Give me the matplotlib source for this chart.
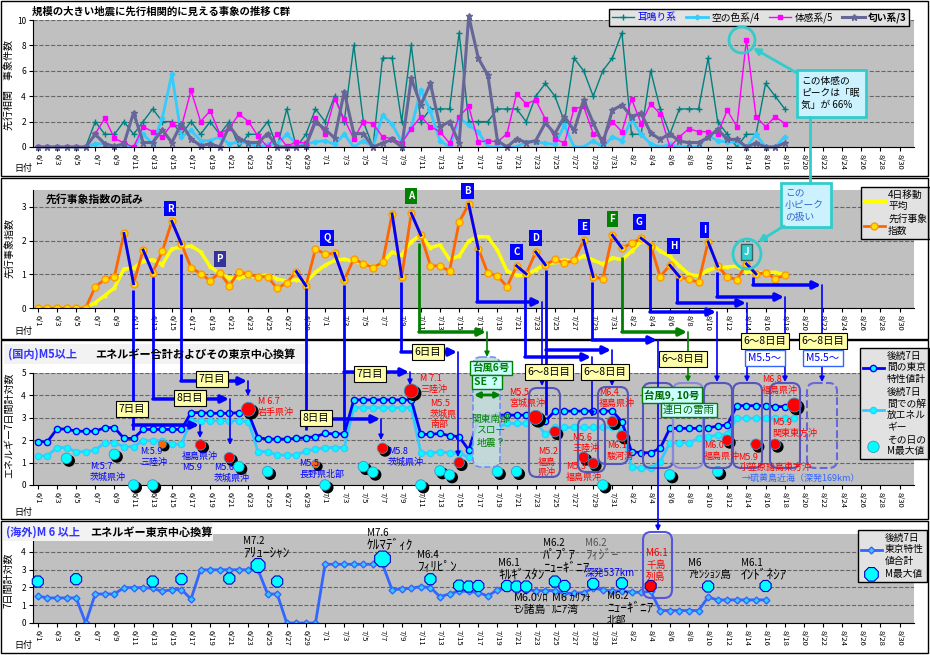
import numpy as np
import matplotlib.pyplot as plt
from matplotlib.patches import Rectangle, FancyBboxPatch, Ellipse
from matplotlib.transforms import offset_copy

plt.rcParams['font.family'] = ['Noto Sans CJK JP', 'DejaVu Sans']

# 日付 6/1 - 8/31
dates = [f"{m}/{d}" for m, n in [(6, 30), (7, 31), (8, 31)] for d in range(1, n + 1)]

# パネル1 先行相関 事象件数 (6/1 - 8/18)
mimi = [0, 0, 0, 0, 0, 0, 2, 1, 1, 2, 1, 2, 3, 2, 2, 1, 2, 1, 2, 1, 2, 0, 1, 1, 2, 0,
        3, 0, 1, 3, 2, 4, 2, 8, 2, 0, 7, 7, 2, 8, 2, 3, 3, 3, 9, 2, 2, 2, 3, 3, 3, 2,
        4, 5, 4, 2, 7, 6, 4, 6, 7, 9, 1, 1, 6, 3, 1, 3, 3, 3, 7, 2, 1, 0, 1, 1, 5, 4, 3]
sora = [0, 0, 0, 0, 0, 0, 0.25, 0.25, 0, 0, 0, 1.0, 0.25, 2.25, 5.75, 0.8,
        1.3, 0.5, 0.5, 0.8, 0.25, 0.4, 0.3, 0.0, 0.2, 0.25, 1.0, 0.25, 0.25, 0.4, 0.5, 0.2,
        1.0, 0.0, 0.5, 0.0, 2.5, 1.8, 0.4, 1.5, 4.5, 2.8, 0.5, 0.0, 2.3, 1.7,
        1.2, 0, 0, 0, 0, 0.4, 0.4, 0.3, 0.2, 1.7, 0, 0, 0.5, 0, 0.8, 0.5, 2.2, 1.0, 0.25, 0,
        0.2, 0, 0, 0, 0.9, 0.5, 0.4, 0.4, 0, 1.0, 0, 0, 0.8]
taikan = [0, 0, 0, 0, 0, 0, 1.05, 2.25, 0.7, 0.3, 0, 1.6, 1.2, 0.8, 1.8, 1.6,
          4.45, 2.0, 2.85, 1.05, 1.47, 2.6, 2.0, 0.85, 0, 1.05, 0.05, 0.4, 0.3, 2.25, 1.05, 3.8,
          2.2, 0.65, 2.0, 1.85, 0.8, 0.65, 0.3, 1.45, 2.4, 1.6, 1.2, 0.3, 2.4, 3.2,
          0.4, 0.5, 0.4, 1.05, 4.2, 3.4, 3.7, 2.2, 0.65, 0.3, 3.0, 3.2, 1.05, 0.65, 2.0, 1.2,
          3.8, 1.85, 3.4, 2.6, 0, 0.8, 1.45, 1.2, 1.2, 1.05, 2.9, 1.6, 8.45, 2.4, 1.6, 2.4, 1.85]
nioi = [0, 0, 0, 0, 0, 0, 1.0, 0.25, 0.05, 0.25, 2.7, 0.35, 0.35, 1.35, 0.35, 1.85,
        0.65, 0.1, 0.25, 0, 1.65, 0.65, 0.35, 0.35, 1.05, 0, 0, 0, 0.1, 2.0, 1.4, 0.7,
        4.35, 1.05, 1.05, 0, 0.3, 0.6, 0, 5.4, 3.3, 5.0, 1.6, 2.0, 0.3, 10.3,
        7.0, 5.65, 0.5, 0, 0.65, 0.35, 0.5, 1.9, 1.05, 2.4, 1.3, 3.7, 1.9, 0.3, 2.9, 3.3,
        2.4, 2.65, 1.1, 0.6, 1.05, 0.45, 0.35, 0.35, 0.75, 1.4, 0.6, 0.6, 0, 0.3, 0, 0, 0.3]

# パネル2 先行事象指数 と 4日移動平均
sensen = [0, 0, 0, 0, 0, 0, 0.63, 0.85, 0.93, 2.21, 0.72, 1.72, 1.05, 1.68, 2.57, 1.9,
          1.2, 1.02, 0.81, 1.05, 0.66, 1.08, 1.0, 0.93, 0.93, 0.58, 0.75, 1.08, 0.66, 1.75,
          1.6, 1.62, 0.83, 1.46, 1.31, 1.2, 1.35, 2.79, 0.93, 2.81, 2.16, 1.26, 1.24, 1.1,
          2.55, 3.08, 1.76, 1.03, 0.96, 0.63, 1.25, 1.01, 1.66, 1.28, 1.44, 1.33, 1.41, 2.01,
          0.93, 0.86, 2.16, 1.78, 1.92, 2.07, 1.85, 0.93, 1.27, 0.93, 0.85, 0.76, 1.96, 1.24,
          0.93, 0.84, 1.31, 1.01, 1.05, 0.87, 0.97]
ma4 = [0, 0, 0, 0, 0, 0, 0.16, 0.37, 0.60, 1.16, 1.18, 1.40, 1.43, 1.29, 1.76, 1.80,
       1.84, 1.67, 1.23, 1.02, 0.89, 0.90, 0.95, 0.92, 0.99, 0.86, 0.80, 0.84, 0.77, 1.06,
       1.27, 1.41, 1.45, 1.38, 1.31, 1.20, 1.33, 1.66, 1.57, 1.97, 2.17, 1.79, 1.87, 1.44,
       1.54, 1.99, 2.12, 2.11, 1.71, 1.10, 0.97, 0.96, 1.14, 1.30, 1.35, 1.43, 1.37, 1.55,
       1.42, 1.30, 1.49, 1.43, 1.68, 1.98, 1.91, 1.69, 1.53, 1.25, 1.00, 0.95, 1.13, 1.20,
       1.22, 1.24, 1.08, 1.05, 1.05, 1.06, 0.98]
peaks = [9, 11, 14, 27, 31, 37, 39, 45, 50, 52, 57, 60, 63, 66, 70, 74]

# パネル3 国内 M5以上
dom_tokyo = [1.93, 1.93, 2.5, 2.5, 2.4, 2.4, 2.4, 2.56, 2.56, 2.08, 2.08, 2.48, 2.48, 2.48,
             2.48, 2.48, 3.23, 3.23, 3.2, 3.2, 3.2, 3.23, 3.2, 2.11, 2.05, 2.05, 2.05, 2.08,
             2.11, 2.16, 2.3, 2.28, 2.28, 3.8, 3.8, 3.8, 3.8, 3.8, 3.8, 3.8, 2.26, 2.26, 2.3,
             2.2, 2.16, 1.56, 2.93, 2.93, 3.12, 3.12, 3.12, 3.12, 3.12, 2.86, 3.3, 3.3, 3.3,
             3.3, 3.3, 3.3, 3.3, 2.83, 1.49, 1.44, 1.44, 1.64, 2.53, 2.53, 2.53, 2.53, 2.55,
             2.63, 2.68, 3.54, 3.54, 3.54, 3.54, 3.5, 3.5, 3.5]
dom_energy = [1.3, 1.3, 1.67, 1.67, 1.49, 1.49, 1.56, 1.89, 1.89, 1.71, 1.71, 1.98, 1.98,
              1.98, 1.82, 1.82, 2.87, 2.87, 2.87, 2.87, 2.87, 2.87, 2.83, 1.49, 1.49, 1.34,
              1.34, 1.34, 1.52, 1.6, 1.67, 1.67, 1.67, 3.45, 3.45, 3.45, 3.45, 3.45, 3.45,
              3.45, 1.44, 1.41, 1.49, 1.43, 1.43, 1.24, 2.53, 2.57, 2.57, 2.75, 2.75, 2.75,
              2.83, 2.26, 2.57, 2.57, 2.57, 2.57, 2.57, 2.57, 2.57, 2.45, 0.82, 0.74, 0.74,
              1.04, 1.89, 1.89, 1.89, 2.08, 2.16, 2.23, 2.26, 2.98, 2.98, 2.98, 2.98, 2.98,
              2.98, 2.98]
dom_qday = [3, 8, 10, 12, 13, 17, 20, 21, 22, 24, 29, 30, 34, 35, 36, 39, 40, 42, 43, 44,
            48, 50, 52, 54, 57, 58, 59, 60, 61, 66, 71, 72, 75, 77, 79]
dom_qval = [1.19, 1.37, 0, 0, 1.82, 1.79, 1.22, 0.82, 3.38, 0.6, 0.94, 0, 0.82, 0.57, 1.64,
            4.2, 0, 0.63, 0.45, 1.0, 0.6, 0.6, 3.02, 2.38, 1.24, 0.97, 0, 2.83, 2.19, 0.45,
            0.6, 2.0, 1.82, 1.82, 3.57]
dom_qkind = list("ccccorrcrcocccrrcccrccrrrrcrrccrrrr")

# パネル4 海外 M6以上
ovs_tokyo = [1.52, 1.41, 1.41, 1.41, 1.41, 0, 1.63, 1.63, 1.63, 1.99, 1.99, 1.99, 1.95, 1.77,
             1.88, 1.88, 1.35, 2.99, 2.99, 2.99, 2.99, 2.99, 2.99, 2.99, 1.63, 1.63, 0, 0, 0,
             0, 3.3, 3.3, 3.3, 3.3, 3.3, 3.3, 3.3, 1.86, 1.92, 1.95, 2.05, 1.99, 1.48, 1.63,
             1.8, 1.77, 1.71, 1.52, 1.86, 1.95, 1.86, 1.86, 1.82, 1.82, 1.82, 1.67, 1.67, 1.71,
             1.95, 1.86, 1.8, 1.8, 1.73, 1.73, 1.77, 0.7, 0.7, 0.7, 0.7, 0.7, 1.45, 1.3, 1.3,
             1.3, 1.3, 1.3, 1.3]
ovs_qday = [0, 4, 12, 15, 20, 23, 25, 36, 41, 44, 45, 46, 49, 50, 51, 54, 55, 58, 61, 64, 70, 76]
ovs_qval = [2.33, 2.46, 2.33, 2.46, 2.5, 3.23, 2.33, 3.6, 2.46, 2.1, 2.05, 2.08, 2.08, 2.05,
            2.05, 2.33, 2.08, 2.2, 2.23, 2.08, 2.05, 2.08]

W, H = 930, 655
fig = plt.figure(figsize=(9.3, 6.55), dpi=100)
fig.patch.set_facecolor('white')


def panel(y_top, y_bot):
    ax = fig.add_axes([33 / W, 1 - y_bot / H, 881 / W, (y_bot - y_top) / H])
    ax.set_facecolor('#C0C0C0')
    ax.set_xlim(-0.5, len(dates) - 0.5)
    ax.set_xticks(range(0, len(dates), 2))
    ax.set_xticklabels(dates[::2], rotation=-90, fontsize=5.5)
    ax.tick_params(axis='x', length=3, pad=2)
    ax.tick_params(axis='y', labelsize=6, length=3, pad=2)
    ax.yaxis.grid(True, ls='--', color='#666666', lw=0.8)
    ax.set_axisbelow(True)
    for s in ['top', 'right']:
        ax.spines[s].set_visible(False)
    return ax


def legend_at(ax, x, y, **kw):
    leg = ax.legend(loc='upper left', bbox_to_anchor=(x / W, 1 - y / H),
                    bbox_transform=fig.transFigure, fontsize=7, fancybox=False,
                    edgecolor='black', facecolor='#E2E2E2', framealpha=1,
                    borderpad=0.3, labelspacing=0.3, handletextpad=0.3, **kw)
    leg.get_frame().set_linewidth(1)
    return leg


# ---- パネル1
ax1 = panel(20, 147)
ax1.set_ylim(0, 10)
ax1.set_yticks(range(0, 11, 2))
d = np.arange(len(mimi))
ax1.plot(d, mimi, color='#008080', lw=1, marker='+', ms=4, mew=1, label='耳鳴り系')
ax1.plot(d, sora, color='#33CCFF', lw=2, marker='D', ms=2.5, label='空の色系/4')
ax1.plot(d, taikan, color='#FF00FF', lw=1, marker='s', ms=3, label='体感系/5')
ax1.plot(d, nioi, color='#666699', lw=2.2, marker='*', ms=4.5, label='匂い系/3', clip_on=False)
leg1 = legend_at(ax1, 604, 4, ncol=4, handlelength=2.3, columnspacing=1.0)
leg1.get_texts()[0].set_color('#0000FF')
leg1.get_texts()[3].set_fontweight('bold')

# ---- パネル2
ax2 = panel(190, 308)
ax2.set_ylim(0, 3.5)
ax2.set_yticks([0, 1, 2, 3])
d = np.arange(len(sensen))
ax2.plot(d, ma4, color='#FFFF00', lw=2.5, marker='o', ms=2, label='4日移動\n平均')
ax2.plot(d, sensen, color='#FF6600', lw=2, marker='o', ms=5, mfc='#FFDD00', mec='#FF9900',
         label='先行事象\n指数')
for p in peaks:
    ax2.plot([p, p + 1], [sensen[p], sensen[p + 1]], color='#0000FF', lw=2, zorder=3)
legend_at(ax2, 856, 182, handlelength=2.2)
ax2.text(0.8, 3.22, '先行事象指数の試み', fontsize=7.8, fontweight='bold', va='center')
for name, x, y, c in [('R', 13.8, 2.95, '#0000FF'), ('P', 19.0, 1.46, '#333399'),
                      ('Q', 30.2, 2.08, '#0000FF'), ('A', 39.0, 3.33, '#008000'),
                      ('B', 44.85, 3.48, '#0000FF'), ('C', 50.0, 1.67, '#0000FF'),
                      ('D', 51.95, 2.08, '#0000FF'), ('E', 57.0, 2.41, '#0000FF'),
                      ('F', 60.0, 2.65, '#008000'), ('G', 62.8, 2.56, '#0000FF'),
                      ('H', 66.4, 1.85, '#0000FF'), ('I', 69.6, 2.32, '#0000FF'),
                      ('J', 74.0, 1.67, '#33CCCC')]:
    ax2.text(x, y, name, color='white', fontsize=7, fontweight='bold', ha='center',
             va='center', clip_on=False, zorder=6,
             bbox=dict(boxstyle='square,pad=0.3', fc=c, ec='#336666' if name == 'J' else 'none'))

# ---- パネル3
ax3 = panel(373, 485)
ax3.set_ylim(0, 5)
ax3.set_yticks(range(6))
d = np.arange(len(dom_tokyo))
ax3.plot(d, dom_tokyo, color='#0000FF', lw=2, marker='o', ms=4.5, mfc='#00FFFF', mec='#0000FF',
         label='後続7日\n間の東京\n特性値計', zorder=3)
ax3.plot(d, dom_energy, color='#33CCFF', lw=2, marker='o', ms=4.5, mfc='#00FFFF', mec='#33CCFF',
         label='後続7日\n間での解\n放エネル\nギー', zorder=2)
colmap = {'c': '#00FFFF', 'r': '#FF0000', 'o': '#FF6600'}
q_col = [colmap[k] for k in dom_qkind]
q_size = [(14 / 1.39) ** 2 if v > 2.9 else ((8 / 1.39) ** 2 if k == 'o' else (10.5 / 1.39) ** 2)
          for v, k in zip(dom_qval, dom_qkind)]
shadow = offset_copy(ax3.transData, fig=fig, x=2.5, y=-2.5, units='dots')
ax3.scatter(dom_qday, dom_qval, s=q_size, color='black', transform=shadow, zorder=4, clip_on=False)
ax3.scatter(dom_qday, dom_qval, s=q_size, c=q_col, edgecolors='#3399CC', linewidths=0.6,
            zorder=5, clip_on=False, label='その日の\nM最大値')
legend_at(ax3, 855, 343, handlelength=2.2)

# ---- パネル4
ax4 = panel(534, 623)
ax4.set_ylim(0, 5)
ax4.set_yticks(range(5))
d = np.arange(len(ovs_tokyo))
ax4.plot(d, ovs_tokyo, color='#3366FF', lw=2, marker='D', ms=3.5, mfc='#33CCFF', mec='#3366FF',
         label='後続7日\n東京特性\n値合計')
o_col = ['#FF0000' if x == 64 else '#00FFFF' for x in ovs_qday]
o_size = [(17 / 1.39) ** 2 if v > 3.4 else ((15 / 1.39) ** 2 if v > 3 else (12 / 1.39) ** 2)
          for v in ovs_qval]
ax4.scatter(ovs_qday, ovs_qval, s=o_size, c=o_col, marker='8', edgecolors='#0000CC',
            linewidths=0.8, zorder=5, clip_on=False, label='M最大値')
legend_at(ax4, 853, 525, handlelength=2.2)

# ---- 重ね描き (ピクセル座標)
ov = fig.add_axes([0, 0, 1, 1], zorder=10)
ov.set_xlim(0, W)
ov.set_ylim(H, 0)
ov.axis('off')

BLUE, GREEN, CYAN = '#0000FF', '#008000', '#33CCCC'

for y0, y1 in [(1, 176), (178, 339), (340, 519), (521, 653)]:
    ov.add_patch(Rectangle((1, y0), 927, y1 - y0, fill=False, ec='black', lw=1))

# 見出し
ov.text(32, 12, '規模の大きい地震に先行相関的に見える事象の推移 C群', fontsize=7.5,
        fontweight='bold', va='center')
ov.add_patch(Rectangle((4, 344), 306, 20, fc='#F2F2F2', ec='none'))
ov.text(8, 354, '(国内)M5以上', color='#3333FF', fontsize=8, fontweight='bold', va='center')
ov.text(95, 354, 'エネルギー合計およびその東京中心換算', fontsize=8, fontweight='bold', va='center')
ov.add_patch(Rectangle((3, 523), 210, 18, fc='#F2F2F2', ec='none'))
ov.text(6, 532, '(海外)M 6 以上', color='#3333FF', fontsize=8, fontweight='bold', va='center')
ov.text(90, 532, 'エネルギー東京中心換算', fontsize=8, fontweight='bold', va='center')

for x, y, s in [(10, 85, '先行相関　事象件数'), (10, 248, '先行事象指数'),
                (9, 425, 'エネルギー7日間計対数'), (9, 580, '7日間計対数')]:
    ov.text(x, y, s, rotation=90, ha='center', va='center', fontsize=7.2)
for y in [168, 331, 512, 645]:
    ov.text(14, y, '日付', fontsize=6.5, va='center')


def drop(x0, y0, yturn, x1, ytgt, color=BLUE, ybot=None):
    ov.plot([x0, x0], [y0, ybot if ybot else yturn], color=color, lw=2, solid_capstyle='butt')
    ov.annotate('', xy=(x1, yturn), xytext=(x0, yturn),
                arrowprops=dict(arrowstyle='-|>', color=color, lw=2.5, mutation_scale=11,
                                shrinkA=0, shrinkB=0))
    ov.annotate('', xy=(x1 + 1, ytgt), xytext=(x1 + 1, yturn),
                arrowprops=dict(arrowstyle='-|>', color=color, lw=1.2, mutation_scale=7,
                                shrinkA=0, shrinkB=0))


drop(133, 290, 425, 199, 438, ybot=430)
drop(153, 277, 399, 229, 445)
drop(181, 254, 381, 247, 396)
drop(306, 288, 419, 380, 440, ybot=430)
drop(344, 285, 372, 409, 385, ybot=430)
drop(401, 282, 352, 457, 457)
drop(419, 243, 332, 486, 357, color=GREEN)
drop(477, 250, 302, 541, 386)
drop(525, 277, 357, 591, 417)
drop(546, 270, 350, 611, 386, ybot=415)
drop(592, 282, 340, 657, 531)
drop(622, 257, 332, 687, 382, color=GREEN)
drop(650, 245, 312, 716, 382)
drop(677, 278, 303, 746, 382)
drop(717, 272, 297, 784, 382)
drop(753, 277, 285, 821, 382)

# 囲み
ov.add_patch(FancyBboxPatch((473, 357), 27, 110, boxstyle='round,pad=0,rounding_size=8',
                            fc='#C4DCDC', ec='#6688FF', ls='--', lw=1.2, alpha=0.9))
for x0, y0, x1, y1, c, ls in [(529, 388, 560, 477, '#5555BB', '-'),
                              (578, 418, 605, 472, '#5555BB', '-'),
                              (598, 387, 628, 464, '#5555BB', '-'),
                              (643, 383, 673, 468, '#5555BB', '-'),
                              (673, 383, 703, 468, '#8888DD', '-'),
                              (704, 383, 732, 468, '#5555BB', '-'),
                              (733, 383, 762, 468, '#5555BB', '-'),
                              (770, 383, 800, 468, '#5555BB', '-'),
                              (807, 383, 837, 468, '#6666DD', '--'),
                              (643, 532, 672, 598, '#5555DD', '-')]:
    ov.add_patch(FancyBboxPatch((x0, y0), x1 - x0, y1 - y0, boxstyle='round,pad=0,rounding_size=8',
                                fill=False, ec=c, ls=ls, lw=1.5))

ov.annotate('', xy=(501, 395), xytext=(474, 395),
            arrowprops=dict(arrowstyle='<|-|>', color=GREEN, lw=2, mutation_scale=8,
                            shrinkA=0, shrinkB=0))
ov.text(491, 431, '関東南部\nスロー\n地震？', color=GREEN, fontsize=7, ha='center', va='center',
        linespacing=1.3)

box_kw = dict(boxstyle='square,pad=0.25', fc='#FFFFAA', ec='black', lw=0.8)
for s, x, y in [('7日目', 132, 409), ('8日目', 190, 398), ('7日目', 212, 379),
                ('8日目', 316, 418), ('7日目', 370, 374), ('6日目', 428, 352),
                ('6～8日目', 549, 372), ('6～8日目', 605, 372), ('6～8日目', 683, 359),
                ('6～8日目', 765, 341), ('6～8日目', 823, 341)]:
    ov.text(x, y, s, fontsize=7.5, ha='center', va='center', bbox=box_kw)
for x in [765, 823]:
    ov.text(x, 358, 'M5.5～', fontsize=7.5, ha='center', va='center', color=BLUE,
            bbox=dict(boxstyle='square,pad=0.3', fc='white', ec='#3366FF', lw=1))
g_kw = dict(boxstyle='square,pad=0.2', fc='#CCFFFF', ec=GREEN, lw=1)
ov.text(491, 368, '台風6号', color=GREEN, fontsize=7.5, fontweight='bold', ha='center',
        va='center', bbox=g_kw)
ov.text(487, 382, 'SE ？', color=GREEN, fontsize=7.5, fontweight='bold', ha='center',
        va='center', bbox=g_kw)
ov.text(672, 395, '台風9, 10号', color='#006600', fontsize=7.5, fontweight='bold', ha='center',
        va='center', bbox=g_kw)
ov.text(689, 410, '連日の雷雨', color='#006600', fontsize=7.5, ha='center', va='center',
        bbox=g_kw)

# 国内地震ラベル
RED = '#FF0000'
for x, y, s, c in [(90, 472, 'M:5.7\n茨城県沖', BLUE), (140, 457, 'M:5.9\n三陸沖', BLUE),
                   (182, 462, '福島県沖\nM5.9', BLUE), (214, 473, 'M5.6\n茨城県沖', BLUE),
                   (299, 469, 'M5.5\n長野県北部', BLUE), (388, 457, 'M5.8\n茨城県沖', BLUE),
                   (258, 407, 'M 6.7\n岩手県沖', RED), (420, 384, 'M 7.1\n三陸沖', RED),
                   (430, 414, 'M5.5\n茨城県\n南部', RED), (509, 398, 'M5.5\n宮城県沖', RED),
                   (538, 462, 'M5.2\n福島\n県沖', RED), (572, 443, 'M5.6\n三陸沖', RED),
                   (566, 472, 'M5.3\n福島県沖', RED), (599, 398, 'M6.4\n福島県沖', RED),
                   (607, 451, 'M6.1\n駿河湾', RED), (704, 451, 'M6.0\n福島県沖', RED),
                   (738, 457, 'M5.9', RED), (762, 385, 'M6.8\n福島県沖', RED),
                   (772, 428, 'M5.9\n関東東方沖', RED), (740, 467, '小笠原諸島東方沖', RED),
                   (742, 478, '→硫黄島近海（深発169km）', '#3366FF')]:
    ov.text(x, y, s, color=c, fontsize=6.5, va='center', linespacing=1.15)


# 海外地震ラベル (半角カナだけの行は大きめの文字で)
def kana_label(x, y, s, c):
    lines = s.split('\n')
    y0 = y - (len(lines) - 1) * 6.2
    for k, line in enumerate(lines):
        kana = [('\uff61' <= ch <= '\uff9f') for ch in line]
        if kana and all(kana):
            fs = 9.5
        elif any(kana):
            fs = 7.8
        else:
            fs = 7
        ov.text(x, y0 + 12.4 * k, line, color=c, fontsize=fs, va='center')


for x, y, s, c in [(243, 547, 'M7.2\nｱﾘｭｰｼｬﾝ', 'black'), (367, 539, 'M7.6\nｹﾙﾏﾃﾞｨｸ', 'black'),
                   (417, 561, 'M6.4\nﾌｨﾘﾋﾟﾝ', 'black'), (498, 569, 'M6.1\nｷﾙｷﾞｽﾀﾝ', 'black'),
                   (543, 555, 'M6.2\nﾊﾟﾌﾟｱ\nﾆｭｰｷﾞﾆｱ', 'black'), (585, 549, 'M6.2\nﾌｨｼﾞｰ', '#555555'),
                   (585, 573, '深発537km', BLUE), (514, 604, 'M6.0ｿﾛ\nﾓﾝ諸島', 'black'),
                   (552, 604, 'M6 ｶﾘﾌｫ\nﾙﾆｱ湾', 'black'), (607, 608, 'M6.2\nﾆｭｰｷﾞﾆｱ\n北部', 'black'),
                   (646, 565, 'M6.1\n千島\n列島', RED), (688, 569, 'M6\nｱｾﾝｼｮﾝ島', 'black'),
                   (741, 569, 'M6.1\nｲﾝﾄﾞﾈｼｱ', 'black')]:
    kana_label(x, y, s, c)

# 吹き出し
ov.add_patch(Ellipse((742, 40), 26, 26, fill=False, ec=CYAN, lw=2))
ov.add_patch(Rectangle((797, 70), 69, 47, fc='#CCF2FF', ec=CYAN, lw=2))
ov.text(801, 93, 'この体感の\nピークは「眠\n気」が 66%', fontsize=7, va='center', linespacing=1.25)
ov.annotate('', xy=(753, 48), xytext=(797, 73),
            arrowprops=dict(arrowstyle='-|>', color=CYAN, lw=2, mutation_scale=10, shrinkA=0, shrinkB=0))
ov.plot([810, 810], [117, 183], color=CYAN, lw=2)
ov.add_patch(Rectangle((781, 183), 50, 44, fc='#CCF2FF', ec=CYAN, lw=2))
ov.text(785, 205, 'この\n小ピーク\nの扱い', fontsize=7, color='#3366CC', va='center', linespacing=1.25)
ov.add_patch(Ellipse((747, 254), 28, 30, fill=False, ec=CYAN, lw=2))
ov.annotate('', xy=(758, 242), xytext=(784, 226),
            arrowprops=dict(arrowstyle='-|>', color=CYAN, lw=2, mutation_scale=10, shrinkA=0, shrinkB=0))

fig.savefig('out.png', dpi=100)
